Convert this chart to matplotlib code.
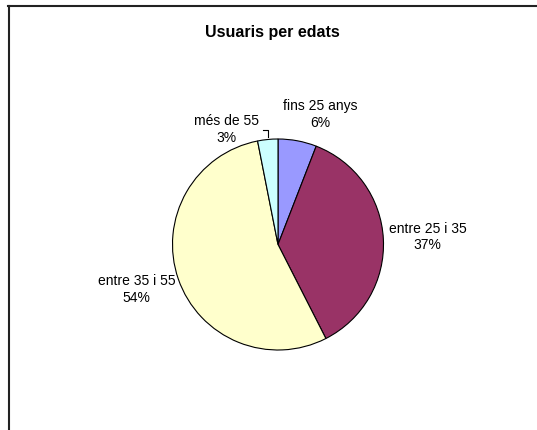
import numpy as np
import matplotlib.pyplot as plt
from matplotlib.lines import Line2D

plt.rcParams['font.family'] = ['Liberation Sans', 'DejaVu Sans']

categories = ['fins 25 anys', 'entre 25 i 35', 'entre 35 i 55', 'més de 55']
values = [5.9, 36.6, 54.4, 3.1]
colors = ['#9999FF', '#993366', '#FFFFCC', '#CCFFFF']

# label centres, in pie radii from the centre
label_pos = [(0.40, 1.23), (1.42, 0.07), (-1.34, -0.43), (-0.49, 1.09)]

W, H = 537, 430
fig = plt.figure(figsize=(W / 100, H / 100), dpi=100)

# outer chart frame (cropped at right and bottom)
fig.add_artist(Line2D([8.5 / W, 8.5 / W], [0, 1 - 6 / H], transform=fig.transFigure,
                      color='#222222', lw=1.5))
fig.add_artist(Line2D([8 / W, 1], [1 - 6 / H, 1 - 6 / H], transform=fig.transFigure,
                      color='#222222', lw=1.5))

fig.text(272 / W, 1 - 33 / H, 'Usuaris per edats', ha='center', va='center',
         fontsize=11.5, fontweight='bold')

cx, cy, r = 278, 244.5, 105.5
ax = fig.add_axes([(cx - r) / W, (H - cy - r) / H, 2 * r / W, 2 * r / H])
ax.pie(values, colors=colors, startangle=90, counterclock=False, radius=1,
       wedgeprops=dict(edgecolor='black', linewidth=0.8))
ax.set_aspect('auto')
ax.set_xlim(-1, 1)
ax.set_ylim(-1, 1)
ax.axis('off')

total = sum(values)
for name, v, (lx, ly) in zip(categories, values, label_pos):
    pct = int(round(100 * v / total))
    ax.text(lx, ly, f'{name}\n{pct}%', ha='center', va='center', fontsize=10,
            linespacing=1.25, clip_on=False)

# leader line for the small slice
ax.plot([-0.14, -0.095, -0.095], [1.085, 1.085, 1.02], color='black', lw=0.8,
        clip_on=False)

fig.savefig('out.png', dpi=100)
